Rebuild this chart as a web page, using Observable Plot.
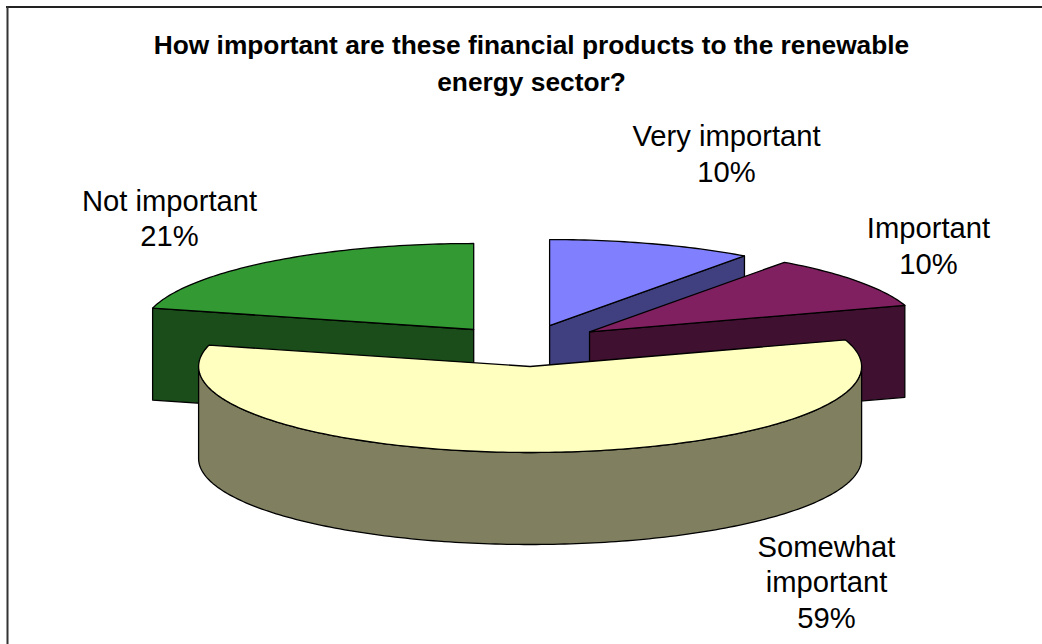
<!DOCTYPE html>
<html>
<head>
<meta charset="utf-8">
<script src="https://cdn.jsdelivr.net/npm/d3@7"></script>
<script src="https://cdn.jsdelivr.net/npm/@observablehq/plot@0.6"></script>
<style>
html,body{margin:0;padding:0;background:#fff;overflow:hidden}
svg{display:block}
</style>
</head>
<body>
<div id="chart"></div>
<script>
// Data
const categories = ["Very important", "Important", "Somewhat important", "Not important"];
const shares = [10, 10, 59, 21];
const labelLines = ["Very important\n10%", "Important\n10%", "Somewhat\nimportant\n59%", "Not important\n21%"];
const topColors = ["#8080FF", "#802060", "#FFFFC0", "#339933"];
const sideColors = ["#404080", "#401030", "#808060", "#1A4D1A"];
const titleText = "How important are these financial products to the renewable\nenergy sector?";

// Layout of the picture, in pixels
const W = 1042, H = 644;
const R = 331.5, CX = 527, CY = 346;
const TILT = 86 / R, DEPTH = 92 / R, EXPLODE = 0.25;
const toX = px => (px - CX) / R, toY = py => (py - CY) / R;
const labelAt = [[726, 152], [928, 244], [826, 580.5], [169, 216.5]];
const nudge = [[-3.5, -0.5], [-5, -2], [0, -1.5], [-3, 0]];

// Angles are clockwise from 12 o'clock; the first slice starts there.
const total = d3.sum(shares);
let running = 0;
const slices = categories.map((name, i) => {
  const a0 = running / total * 360;
  running += shares[i];
  const a1 = running / total * 360;
  const mid = (a0 + a1) / 2 * Math.PI / 180;
  return {name, i, a0, a1,
    ox: EXPLODE * Math.sin(mid) + nudge[i][0] / R,
    oy: -EXPLODE * TILT * Math.cos(mid) + nudge[i][1] / R};
});
const rim = (s, deg, drop = 0) => {
  const t = deg * Math.PI / 180;
  return {x: s.ox + Math.sin(t), y: s.oy - TILT * Math.cos(t) + drop};
};
const apex = (s, drop = 0) => ({x: s.ox, y: s.oy + drop});
const arc = (s, from, to, drop = 0) => {
  const n = Math.max(2, Math.ceil(to - from));
  return d3.range(n + 1).map(k => rim(s, from + (to - from) * k / n, drop));
};

// Back-to-front drawing order
const drawOrder = ["Very important", "Important", "Not important", "Somewhat important"];
const faceMark = (points, fill) => Plot.line(points, {
  x: "x", y: "y", fill, stroke: "#000", strokeWidth: 1.3,
  curve: "linear-closed", strokeLinejoin: "round"
});
const faces = drawOrder.flatMap(name => {
  const s = slices.find(d => d.name === name);
  const side = sideColors[s.i], top = topColors[s.i];
  const out = [];
  // outer wall: only the part turned towards the viewer
  const f = Math.max(s.a0, 90), t = Math.min(s.a1, 270);
  if (t > f) out.push(faceMark([...arc(s, f, t), ...arc(s, f, t, DEPTH).reverse()], side));
  // cut walls turned towards the viewer
  if (Math.sin(s.a0 * Math.PI / 180) < -1e-6)
    out.push(faceMark([apex(s), rim(s, s.a0), rim(s, s.a0, DEPTH), apex(s, DEPTH)], side));
  if (Math.sin(s.a1 * Math.PI / 180) > 1e-6)
    out.push(faceMark([apex(s), rim(s, s.a1), rim(s, s.a1, DEPTH), apex(s, DEPTH)], side));
  // top face
  out.push(faceMark([apex(s), ...arc(s, s.a0, s.a1)], top));
  return out;
});

const fontFamily = "'Liberation Sans', Arial, sans-serif";
const chart = Plot.plot({
  width: W, height: H,
  marginTop: 0, marginRight: 0, marginBottom: 0, marginLeft: 0,
  style: {background: "#fff", fontFamily},
  x: {domain: [toX(0), toX(W)], range: [0, W], axis: null},
  y: {domain: [toY(0), toY(H)], range: [0, H], axis: null},
  marks: [
    Plot.ruleY([toY(6.5)], {x1: toX(6), x2: toX(W), stroke: "#222", strokeWidth: 2}),
    Plot.ruleX([toX(7)], {y1: toY(6), y2: toY(H), stroke: "#333", strokeWidth: 2}),
    ...faces,
    Plot.text([titleText], {
      x: () => toX(531), y: () => toY(60), text: d => d,
      fontSize: 26.3, fontWeight: "bold", lineHeight: 1.42, fill: "#000",
      fontFamily, textAnchor: "middle", lineAnchor: "middle"
    }),
    Plot.text(labelLines, {
      x: (d, i) => toX(labelAt[i][0]), y: (d, i) => toY(labelAt[i][1]), text: d => d,
      fontSize: 29.2, lineHeight: 1.215, fill: "#000",
      fontFamily, textAnchor: "middle", lineAnchor: "middle"
    })
  ]
});
document.getElementById("chart").appendChild(chart);
</script>
</body>
</html>
